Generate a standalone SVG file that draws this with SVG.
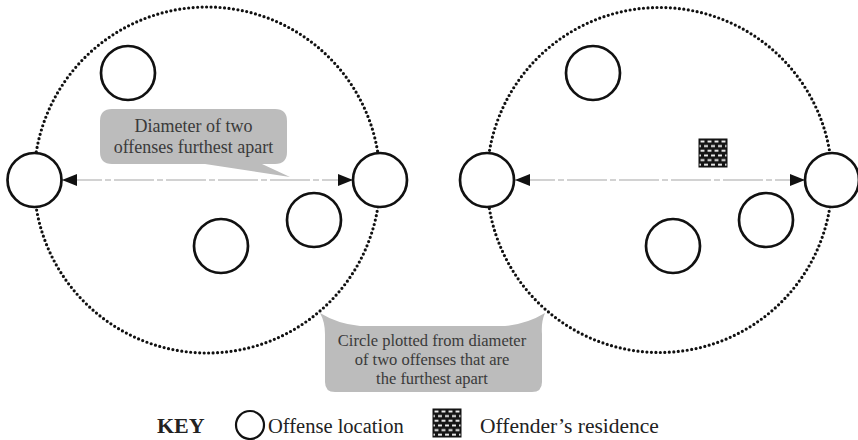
<svg xmlns="http://www.w3.org/2000/svg" width="858" height="440" viewBox="0 0 858 440">
<style>
.area{fill:none;stroke:#111;stroke-width:3.2;stroke-dasharray:0 4.5;stroke-linecap:round}
.off{fill:#fff;stroke:#111;stroke-width:2.7}
.dia{stroke:#c4c4c4;stroke-width:1.6;stroke-dasharray:40 3 6 3;fill:none}
.call{fill:#bcbcbc}
.ct{font-family:"Liberation Serif","Times New Roman",serif;fill:#3a3a3a;text-anchor:middle}
.key{font-family:"Liberation Serif","Times New Roman",serif;fill:#222}
.res{fill:url(#brick);stroke:#111;stroke-width:1}
</style>
<defs>
<marker id="ah" markerUnits="userSpaceOnUse" markerWidth="16" markerHeight="13" refX="15" refY="6" orient="auto-start-reverse" viewBox="0 0 16 13">
<path d="M0,0 L15,6 L0,12 Z" fill="#111"/>
</marker>
<pattern id="brick" patternUnits="objectBoundingBox" patternContentUnits="objectBoundingBox" width="0.25" height="0.3333">
<rect x="0" y="0" width="0.25" height="0.3333" fill="#151515"/>
<rect x="0.055" y="0.055" width="0.14" height="0.065" fill="#fff"/>
<rect x="-0.07" y="0.22" width="0.14" height="0.065" fill="#fff"/>
<rect x="0.18" y="0.22" width="0.14" height="0.065" fill="#fff"/>
</pattern>
</defs>

<g id="area-left"><circle class="area" cx="207" cy="180" r="173"/></g>
<g id="area-right"><circle class="area" cx="659.5" cy="180" r="172.5"/></g>

<g id="connectors">
<line class="dia" x1="62" y1="180" x2="353" y2="180" marker-start="url(#ah)" marker-end="url(#ah)"/>
<line class="dia" x1="515" y1="180" x2="805" y2="180" marker-start="url(#ah)" marker-end="url(#ah)"/>
</g>

<g id="offenses-left">
<circle class="off" cx="128" cy="73" r="27"/>
<circle class="off" cx="34.5" cy="180" r="27"/>
<circle class="off" cx="380" cy="180" r="27"/>
<circle class="off" cx="314" cy="220" r="27"/>
<circle class="off" cx="221" cy="246" r="27"/>
</g>
<g id="offenses-right">
<circle class="off" cx="593" cy="73" r="27"/>
<circle class="off" cx="487" cy="180" r="27"/>
<circle class="off" cx="832" cy="180" r="27"/>
<circle class="off" cx="766" cy="220" r="27"/>
<circle class="off" cx="673" cy="246" r="27"/>
</g>

<g id="residence"><rect class="res" x="699" y="139" width="28" height="28"/></g>

<g id="callout-diameter">
<path class="call" d="M112,109 L275,109 Q287,109 287,121 L287,152 Q287,164 275,164 L262,164 L290,177 L205,164 L112,164 Q100,164 100,152 L100,121 Q100,109 112,109 Z"/>
<text class="ct" x="193.5" y="132" font-size="18">Diameter of two</text>
<text class="ct" x="193.5" y="153" font-size="18">offenses furthest apart</text>
</g>

<g id="callout-circle">
<path class="call" d="M320,313 Q338,324 360,326 L505,326 Q527,324 545,313 Q541,322 542,334 L542,382 Q542,392 532,392 L335,392 Q325,392 325,382 L325,334 Q325,322 320,313 Z"/>
<text class="ct" x="432" y="345.5" font-size="16.5">Circle plotted from diameter</text>
<text class="ct" x="432" y="364.5" font-size="16.5">of two offenses that are</text>
<text class="ct" x="432" y="383.5" font-size="16.5">the furthest apart</text>
</g>

<g id="key">
<text class="key" x="157" y="433" font-size="22" font-weight="bold">KEY</text>
<circle cx="250" cy="425" r="14" fill="#fff" stroke="#111" stroke-width="2.2"/>
<text class="key" x="268" y="433" font-size="20.5">Offense location</text>
<rect class="res" x="433" y="409" width="28" height="28"/>
<text class="key" x="480" y="433" font-size="21.5">Offender’s residence</text>
</g>
</svg>
